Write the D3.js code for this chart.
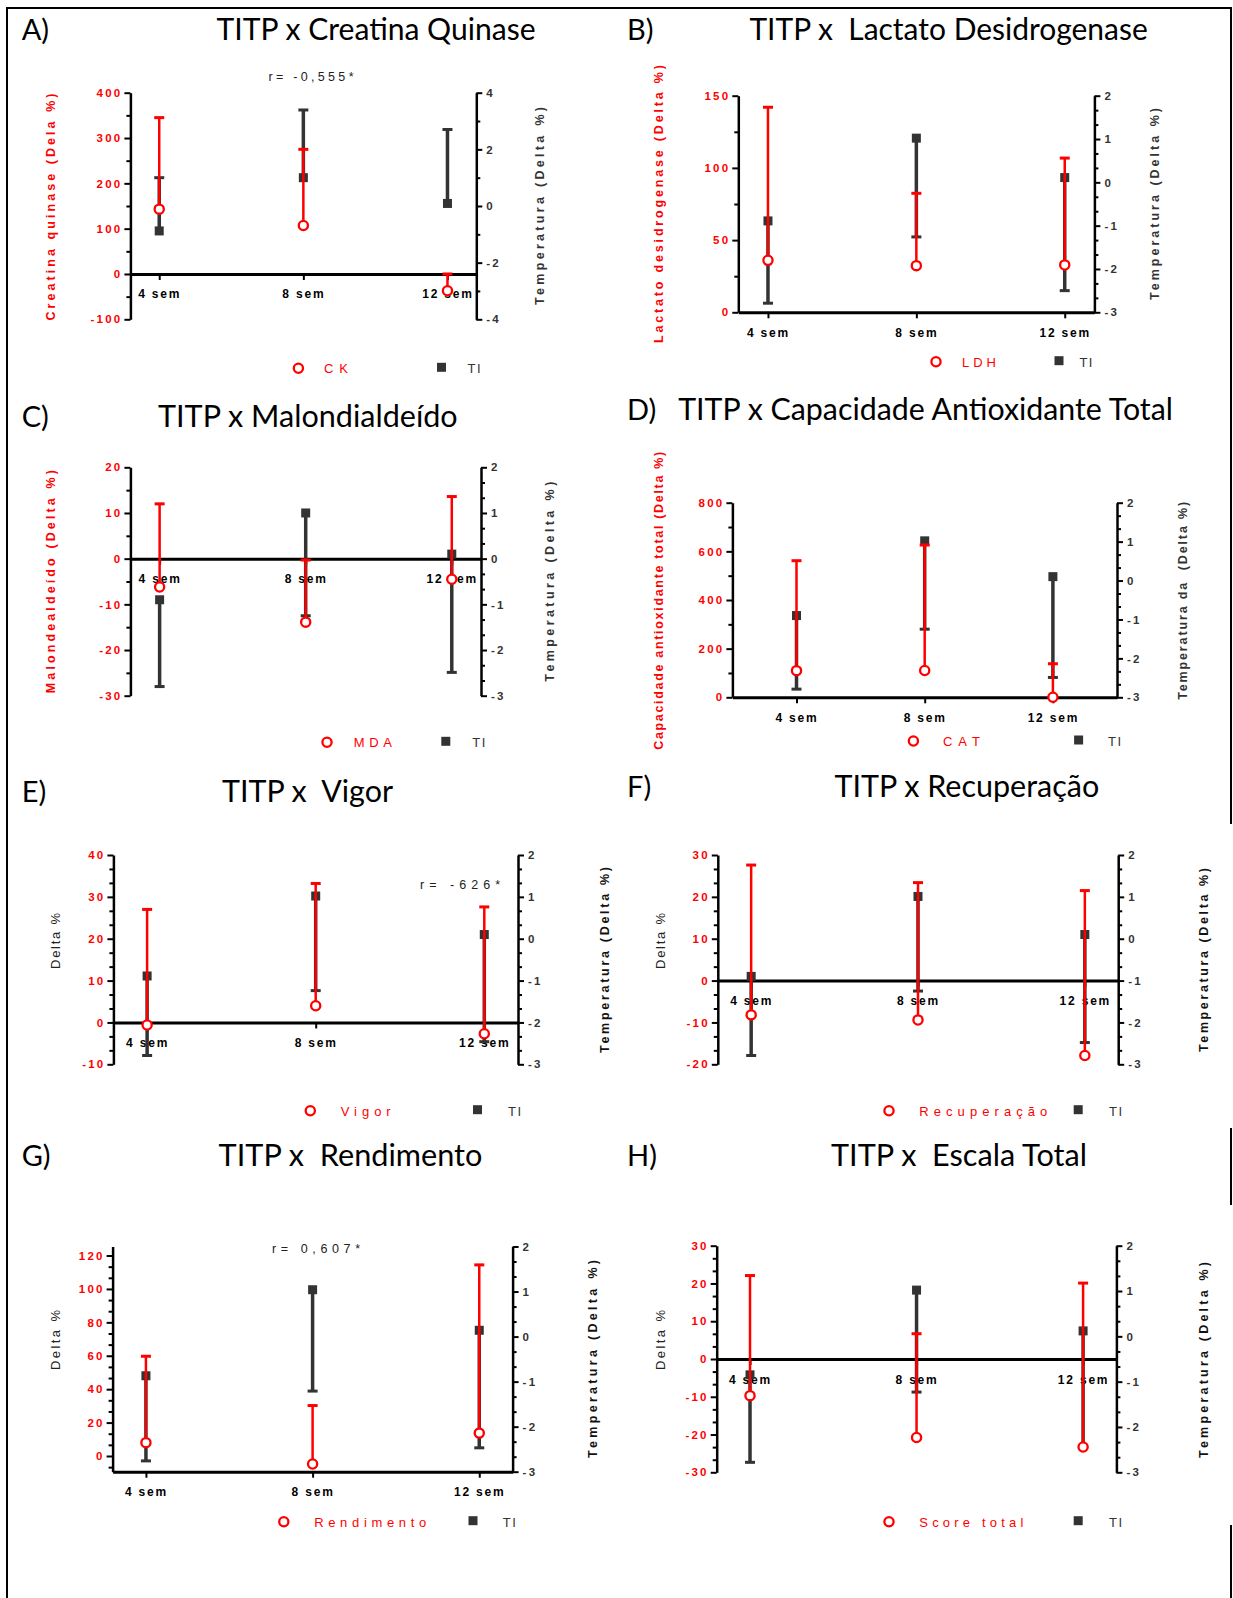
<!DOCTYPE html>
<html>
<head>
<meta charset="utf-8">
<script src="https://cdn.jsdelivr.net/npm/d3@7"></script>
<style>
  html, body { margin: 0; padding: 0; background: #fff; }
  svg { display: block; }
</style>
</head>
<body>
<svg id="chart" width="1233" height="1598"></svg>
<script>
// ---------------- DATA ----------------
const categories = ["4 sem", "8 sem", "12 sem"];

// A) CK vs TI  (mean and error-bar end)
const ckMean = [143, 107, -37];
const ckErrEnd = [345, 275, 0];
const tiMeanA = [-0.88, 1.0, 0.09];
const tiErrEndA = [1.0, 3.39, 2.7];

// B) LDH vs TI
const ldhMean = [36, 32.3, 32.8];
const ldhErrEnd = [142, 82.4, 106.8];
const tiMeanB = [-0.89, 1.02, 0.11];
const tiErrEndB = [-2.79, -1.26, -2.5];

// C) MDA vs TI
const mdaMean = [-6.2, -13.9, -4.5];
const mdaErrEnd = [12.0, -0.3, 13.6];
const tiMeanC = [-0.9, 1.0, 0.1];
const tiErrEndC = [-2.8, -1.25, -2.49];

// D) CAT vs TI
const catMean = [109.6, 110, 0];
const catErrEnd = [561.6, 626, 138];
const tiMeanD = [-0.9, 1.02, 0.1];
const tiErrEndD = [-2.79, -1.25, -2.49];

// E) Vigor vs TI
const vigorMean = [-0.6, 4.0, -2.7];
const vigorErrEnd = [27.0, 33.2, 27.6];
const tiMeanE = [-0.89, 1.02, 0.1];
const tiErrEndE = [-2.79, -1.24, -2.46];

// F) Recuperação vs TI
const recMean = [-8.2, -9.4, -17.9];
const recErrEnd = [27.6, 23.4, 21.5];
const tiMeanF = [-0.9, 1.01, 0.1];
const tiErrEndF = [-2.79, -1.25, -2.48];

// G) Rendimento vs TI
const rendMean = [8.0, -4.8, 13.7];
const rendErrEnd = [59.7, 30.2, 114.4];
const tiMeanG = [-0.87, 1.04, 0.14];
const tiErrEndG = [-2.76, -1.21, -2.47];

// H) Score total vs TI
const scoreMean = [-9.7, -20.8, -23.3];
const scoreErrEnd = [22.1, 6.7, 20.1];
const tiMeanH = [-0.85, 1.02, 0.12];
const tiErrEndH = [-2.78, -1.23, -2.45];

// ---------------- STYLE / LAYOUT ----------------
const RED = "#ff0000";
const DARK = "#333333";
const NUMFONT = "'Liberation Sans', Arial, sans-serif";
const TITLEFONT = "Lato, 'Open Sans', sans-serif";

const panels = [
  { letter: "A)", lx: 21.7, title: "TITP x Creatina Quinase", tx0: 216.6, tx1: 535.6, tb: 40,
    L: 130.4, R: 476.3, T: 92.7, B: 319.3, pad: 0.2, xAt0: true,
    lDom: [-100, 400], lMaj: 100, lMin: 50, rDom: [-4, 4], rMaj: 2, rMin: 1,
    mean: ckMean, err: ckErrEnd, tiM: tiMeanA, tiE: tiErrEndA,
    ll: { text: "Creatina quinase (Dela %)", cx: 51.4, cy: 207, len: 227, bold: true, color: RED, size: 12.5 },
    rl: { text: "Temperatura (Delta %)", cx: 539.5, cy: 206, len: 198, color: DARK },
    lg: { name: "CK", y: 368.3, cx: 298.4, tx: 324, tlen: 24, sx: 441.5, tix: 467.6 },
    r: { text: "r= -0,555*", cx: 311, y: 81, len: 85 } },
  { letter: "B)", lx: 627, title: "TITP x  Lactato Desidrogenase", tx0: 749.4, tx1: 1147.8, tb: 40,
    L: 738.3, R: 1094.4, T: 95.7, B: 312.3, pad: 0.2, xAt0: false,
    lDom: [0, 150], lMaj: 50, lMin: 25, rDom: [-3, 2], rMaj: 1, rMin: 1/3,
    mean: ldhMean, err: ldhErrEnd, tiM: tiMeanB, tiE: tiErrEndB,
    ll: { text: "Lactato desidrogenase (Delta %)", cx: 658.5, cy: 204, len: 278, bold: true, color: RED, size: 12.5 },
    rl: { text: "Temperatura (Delta %)", cx: 1154.5, cy: 204, len: 192, color: DARK },
    lg: { name: "LDH", y: 361.7, cx: 936, tx: 962, tlen: 34, sx: 1059, tix: 1079.4 } },
  { letter: "C)", lx: 21.7, title: "TITP x Malondialdeído", tx0: 158, tx1: 457.7, tb: 427,
    L: 130.4, R: 481, T: 467.3, B: 695.7, pad: 0.2, xAt0: true,
    lDom: [-30, 20], lMaj: 10, lMin: 5, rDom: [-3, 2], rMaj: 1, rMin: 1/3,
    mean: mdaMean, err: mdaErrEnd, tiM: tiMeanC, tiE: tiErrEndC,
    ll: { text: "Malondealdeído (Delta %)", cx: 51.4, cy: 581.7, len: 223, bold: true, color: RED, size: 12.5 },
    rl: { text: "Temperatura (Delta %)", cx: 550, cy: 581.7, len: 200, color: DARK },
    lg: { name: "MDA", y: 742.3, cx: 327, tx: 353.8, tlen: 38, sx: 445.8, tix: 472.3 } },
  { letter: "D)", lx: 627, title: "TITP x Capacidade Antioxidante Total", tx0: 678.2, tx1: 1173, tb: 420,
    L: 732.4, R: 1117, T: 502.7, B: 697.3, pad: 0.5, xAt0: false,
    lDom: [0, 800], lMaj: 200, lMin: 100, rDom: [-3, 2], rMaj: 1, rMin: 1/3,
    mean: catMean, err: catErrEnd, tiM: tiMeanD, tiE: tiErrEndD,
    ll: { text: "Capacidade antioxidante total (Delta %)", cx: 658.5, cy: 600.8, len: 298, bold: true, color: RED, size: 12.5 },
    rl: { text: "Temperatura da  (Delta %)", cx: 1183, cy: 600.8, len: 198, color: DARK },
    lg: { name: "CAT", y: 741, cx: 913.4, tx: 943, tlen: 37, sx: 1078.6, tix: 1108 } },
  { letter: "E)", lx: 21.7, title: "TITP x  Vigor", tx0: 222, tx1: 393, tb: 801.5,
    L: 113.4, R: 518, T: 855, B: 1064.3, pad: 0.2, xAt0: true,
    lDom: [-10, 40], lMaj: 10, lMin: 10/3, rDom: [-3, 2], rMaj: 1, rMin: 1/3,
    mean: vigorMean, err: vigorErrEnd, tiM: tiMeanE, tiE: tiErrEndE,
    ll: { text: "Delta %", cx: 55.3, cy: 941, len: 56, bold: false, color: "#222", size: 13 },
    rl: { text: "Temperatura (Delta %)", cx: 604.7, cy: 960, len: 186, color: "#111" },
    lg: { name: "Vigor", y: 1110.7, cx: 310.3, tx: 340.7, tlen: 50, sx: 477.5, tix: 508 },
    r: { text: "r= -626*", cx: 460, y: 888.5, len: 80 } },
  { letter: "F)", lx: 627, title: "TITP x Recuperação", tx0: 834.4, tx1: 1099.2, tb: 797.3,
    L: 717.8, R: 1118.2, T: 855, B: 1064.3, pad: 0.2, xAt0: true,
    lDom: [-20, 30], lMaj: 10, lMin: 10/3, rDom: [-3, 2], rMaj: 1, rMin: 1/3,
    mean: recMean, err: recErrEnd, tiM: tiMeanF, tiE: tiErrEndF,
    ll: { text: "Delta %", cx: 660.5, cy: 941, len: 56, bold: false, color: "#222", size: 13 },
    rl: { text: "Temperatura (Delta %)", cx: 1204, cy: 960, len: 184, color: "#111" },
    lg: { name: "Recuperação", y: 1110.7, cx: 889, tx: 919.3, tlen: 128, sx: 1078.2, tix: 1109 } },
  { letter: "G)", lx: 21.7, title: "TITP x  Rendimento", tx0: 218.6, tx1: 482.4, tb: 1165.7,
    L: 112.6, R: 512.6, T: 1246.5, B: 1471.7, pad: 0.2, xAt0: false,
    lDom: [-9.4, 125.4], lMaj: 20, lMin: 20/3, rDom: [-3, 2], rMaj: 1, rMin: 1/3,
    mean: rendMean, err: rendErrEnd, tiM: tiMeanG, tiE: tiErrEndG,
    ll: { text: "Delta %", cx: 55.3, cy: 1340, len: 60, bold: false, color: "#222", size: 13 },
    rl: { text: "Temperatura (Delta %)", cx: 593, cy: 1359, len: 198, color: "#111" },
    lg: { name: "Rendimento", y: 1521.7, cx: 283.8, tx: 314.2, tlen: 112, sx: 473, tix: 502.8 },
    r: { text: "r= 0,607*", cx: 316, y: 1252.5, len: 88 } },
  { letter: "H)", lx: 627, title: "TITP x  Escala Total", tx0: 831, tx1: 1087, tb: 1165.7,
    L: 716.7, R: 1116.4, T: 1245.7, B: 1472.3, pad: 0.2, xAt0: true,
    lDom: [-30, 30], lMaj: 10, lMin: 10/3, rDom: [-3, 2], rMaj: 1, rMin: 1/3,
    mean: scoreMean, err: scoreErrEnd, tiM: tiMeanH, tiE: tiErrEndH,
    ll: { text: "Delta %", cx: 660.5, cy: 1340, len: 60, bold: false, color: "#222", size: 13 },
    rl: { text: "Temperatura (Delta %)", cx: 1204, cy: 1360, len: 196, color: "#111" },
    lg: { name: "Score total", y: 1521.7, cx: 889, tx: 919.3, tlen: 104, sx: 1078.2, tix: 1109 } }
];

// ---------------- HELPERS ----------------
function majorVals(dom, step) {
  const out = [];
  for (let k = Math.ceil(dom[0] / step - 1e-9); k * step <= dom[1] + 1e-9; k++) out.push(+(k * step).toFixed(6));
  return out;
}
function minorVals(dom, step, majStep) {
  const out = [];
  for (let k = Math.ceil(dom[0] / step - 1e-9); k * step <= dom[1] + 1e-9; k++) {
    const v = k * step, r = v / majStep;
    if (Math.abs(r - Math.round(r)) > 1e-6) out.push(v);
  }
  return out;
}

const svg = d3.select("#chart");

// frame
const frame = svg.append("g").attr("stroke", "#000").attr("stroke-width", 2);
frame.append("line").attr("x1", 7).attr("y1", 7).attr("x2", 7).attr("y2", 1598);
frame.append("line").attr("x1", 6).attr("y1", 8).attr("x2", 1232).attr("y2", 8);
[[7, 824], [1128, 1205], [1525, 1598]].forEach(([a, b]) =>
  frame.append("line").attr("x1", 1231).attr("x2", 1231).attr("y1", a).attr("y2", b));

function styleAxis(sel, color, domainW) {
  sel.select(".domain").attr("stroke", "#000").attr("stroke-width", domainW);
  sel.selectAll(".tick line").attr("stroke", "#000").attr("stroke-width", 2);
  sel.selectAll(".tick text")
    .attr("fill", color)
    .style("font-family", NUMFONT)
    .style("font-size", "11.5px")
    .style("font-weight", "bold")
    .style("letter-spacing", "2.2px");
}

function drawSeries(g, x, y, mean, err, color, lineW, marker) {
  const data = categories.map((c, i) => ({ c, m: mean[i], e: err[i] }));
  const s = g.append("g").selectAll("g").data(data).join("g");
  s.append("line")
    .attr("x1", d => x(d.c)).attr("x2", d => x(d.c))
    .attr("y1", d => y(d.m)).attr("y2", d => y(d.e))
    .attr("stroke", color).attr("stroke-width", lineW);
  s.append("line")
    .attr("x1", d => x(d.c) - 5).attr("x2", d => x(d.c) + 5)
    .attr("y1", d => y(d.e)).attr("y2", d => y(d.e))
    .attr("stroke", color).attr("stroke-width", 3);
  if (marker === "circle") {
    s.append("circle").attr("cx", d => x(d.c)).attr("cy", d => y(d.m)).attr("r", 4.6)
      .attr("fill", "#fff").attr("stroke", color).attr("stroke-width", 2.3);
  } else {
    s.append("rect").attr("x", d => x(d.c) - 4.5).attr("y", d => y(d.m) - 4.5)
      .attr("width", 9).attr("height", 9).attr("fill", color);
  }
}

function drawPanel(p) {
  const g = svg.append("g");
  const x = d3.scalePoint().domain(categories).range([p.L, p.R]).padding(p.pad);
  const yL = d3.scaleLinear().domain(p.lDom).range([p.B, p.T]);
  const yR = d3.scaleLinear().domain(p.rDom).range([p.B, p.T]);

  // titles
  g.append("text").attr("x", p.lx).attr("y", p.tb).text(p.letter)
    .style("font-family", TITLEFONT).style("font-size", "29px").attr("fill", "#000");
  g.append("text").attr("x", p.tx0).attr("y", p.tb).text(p.title)
    .style("font-family", TITLEFONT).style("font-size", "30px").style("white-space", "pre")
    .attr("textLength", p.tx1 - p.tx0).attr("lengthAdjust", "spacingAndGlyphs").attr("fill", "#000");

  // left axis minor + major
  const lMinor = g.append("g").attr("transform", `translate(${p.L},0)`)
    .call(d3.axisLeft(yL).tickValues(minorVals(p.lDom, p.lMin, p.lMaj)).tickSize(4).tickSizeOuter(0).tickFormat(""));
  lMinor.select(".domain").remove();
  lMinor.selectAll(".tick line").attr("stroke", "#000").attr("stroke-width", 2);
  const lAx = g.append("g").attr("transform", `translate(${p.L},0)`)
    .call(d3.axisLeft(yL).tickValues(majorVals([Math.ceil(p.lDom[0]), p.lDom[1]], p.lMaj)).tickSize(6).tickSizeOuter(0).tickPadding(2).tickFormat(d => String(d)));
  styleAxis(lAx, RED, 2.5);

  // right axis minor + major
  const rMinor = g.append("g").attr("transform", `translate(${p.R},0)`)
    .call(d3.axisRight(yR).tickValues(minorVals(p.rDom, p.rMin, p.rMaj)).tickSize(4).tickSizeOuter(0).tickFormat(""));
  rMinor.select(".domain").remove();
  rMinor.selectAll(".tick line").attr("stroke", "#000").attr("stroke-width", 2);
  const rAx = g.append("g").attr("transform", `translate(${p.R},0)`)
    .call(d3.axisRight(yR).tickValues(majorVals(p.rDom, p.rMaj)).tickSize(6).tickSizeOuter(0).tickPadding(4).tickFormat(d => String(d)));
  styleAxis(rAx, DARK, 2.5);

  // x axis
  const xy = p.xAt0 ? yL(0) : p.B;
  const xAx = g.append("g").attr("transform", `translate(0,${xy})`)
    .call(d3.axisBottom(x).tickSize(6).tickSizeOuter(0).tickPadding(10));
  styleAxis(xAx, "#000", 3);
  xAx.selectAll(".tick text").style("font-size", "12px").style("letter-spacing", "1.8px");

  // series: TI (dark, right axis) then red (left axis)
  drawSeries(g, x, yR, p.tiM, p.tiE, DARK, 3.5, "square");
  drawSeries(g, x, yL, p.mean, p.err, RED, 2.5, "circle");

  // axis labels
  g.append("text")
    .attr("transform", `translate(${p.ll.cx},${p.ll.cy}) rotate(-90)`)
    .attr("text-anchor", "middle").attr("dominant-baseline", "central")
    .style("font-family", NUMFONT).style("font-size", p.ll.size + "px")
    .style("font-weight", p.ll.bold ? "bold" : "normal")
    .attr("fill", p.ll.color)
    .attr("textLength", p.ll.len).attr("lengthAdjust", "spacing")
    .text(p.ll.text);
  g.append("text")
    .attr("transform", `translate(${p.rl.cx},${p.rl.cy}) rotate(-90)`)
    .attr("text-anchor", "middle").attr("dominant-baseline", "central")
    .style("font-family", NUMFONT).style("font-size", "12.5px").style("font-weight", "bold")
    .style("white-space", "pre")
    .attr("fill", p.rl.color)
    .attr("textLength", p.rl.len).attr("lengthAdjust", "spacing")
    .text(p.rl.text);

  // correlation text
  if (p.r) {
    g.append("text").attr("x", p.r.cx).attr("y", p.r.y).attr("text-anchor", "middle")
      .style("font-family", NUMFONT).style("font-size", "12.5px").attr("fill", "#222")
      .attr("textLength", p.r.len).attr("lengthAdjust", "spacing")
      .text(p.r.text);
  }

  // legend
  const lg = p.lg;
  g.append("circle").attr("cx", lg.cx).attr("cy", lg.y).attr("r", 4.6)
    .attr("fill", "#fff").attr("stroke", RED).attr("stroke-width", 2.3);
  g.append("text").attr("x", lg.tx).attr("y", lg.y + 5)
    .style("font-family", NUMFONT).style("font-size", "13px").attr("fill", RED)
    .attr("textLength", lg.tlen).attr("lengthAdjust", "spacing").text(lg.name);
  g.append("rect").attr("x", lg.sx - 4.5).attr("y", lg.y - 5.5).attr("width", 9).attr("height", 9).attr("fill", DARK);
  g.append("text").attr("x", lg.tix).attr("y", lg.y + 5)
    .style("font-family", NUMFONT).style("font-size", "13px").attr("fill", DARK)
    .attr("textLength", 13).attr("lengthAdjust", "spacing").text("TI");
}

panels.forEach(drawPanel);
</script>
